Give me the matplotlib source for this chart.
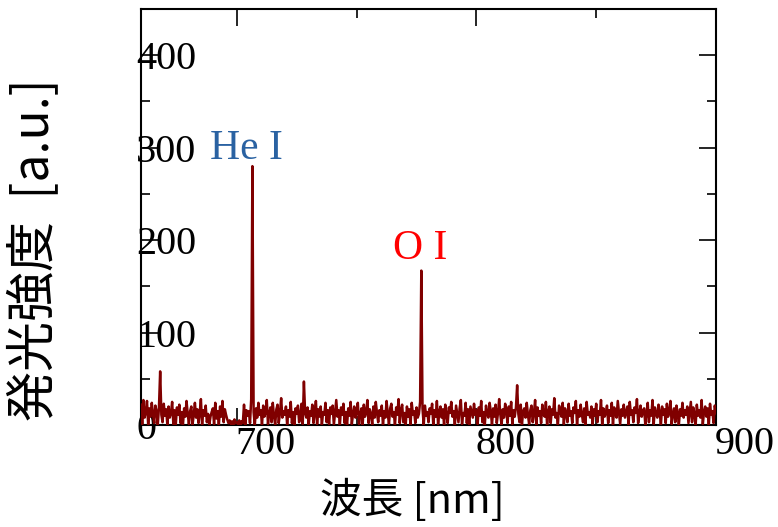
import numpy as np
import matplotlib
matplotlib.use("Agg")
import matplotlib.pyplot as plt
from matplotlib.ticker import MultipleLocator
from matplotlib.transforms import ScaledTranslation

# wavelength grid of the spectrometer [nm], 0.5 nm step
wl_start, wl_step = 660.0, 0.5

# emission intensity [a.u.]
intensity = [
    22, 1, 27, 8, 14, 26, 0, 18, 9, 24, 12, 2, 21, 15, 0, 19, 58, 11, 3, 23,
    10, 17, 0, 20, 8, 13, 25, 1, 16, 0, 19, 11, 22, 2, 14, 0, 18, 9, 26, 12,
    1, 15, 20, 0, 11, 24, 8, 17, 2, 13, 28, 0, 16, 10, 21, 3, 12, 0, 9, 14,
    18, 1, 24, 7, 15, 0, 20, 9, 26, 3, 17, 11, 6, 2, 5, 1, 4, 0, 6, 2,
    3, 1, 5, 0, 4, 2, 22, 0, 16, 10, 15, 2, 28, 280, 14, 0, 18, 8, 24, 11,
    16, 0, 21, 9, 14, 27, 1, 12, 19, 3, 24, 10, 0, 17, 22, 2, 13, 29, 8, 15,
    11, 20, 0, 16, 9, 25, 2, 14, 0, 18, 12, 21, 3, 10, 23, 1, 47, 13, 8, 19,
    0, 15, 10, 22, 2, 13, 26, 1, 17, 9, 20, 0, 14, 11, 24, 3, 16, 1, 19, 12,
    21, 0, 13, 27, 9, 16, 0, 19, 11, 23, 2, 14, 0, 18, 10, 25, 1, 12, 20, 8,
    15, 24, 1, 11, 18, 0, 22, 9, 14, 27, 2, 17, 12, 0, 20, 8, 25, 13, 3, 16,
    10, 21, 0, 15, 8, 26, 12, 1, 18, 23, 9, 14, 0, 19, 11, 28, 2, 16, 22, 3,
    13, 1, 20, 9, 17, 0, 24, 11, 15, 2, 19, 8, 12, 25, 167, 18, 0, 21, 10, 14,
    3, 18, 12, 23, 0, 16, 9, 26, 1, 14, 20, 8, 17, 0, 22, 11, 2, 19, 13, 25,
    9, 15, 0, 21, 12, 3, 18, 27, 1, 13, 10, 24, 2, 17, 0, 20, 14, 8, 23, 11,
    16, 1, 19, 10, 26, 3, 14, 0, 21, 12, 8, 24, 15, 0, 18, 9, 22, 2, 13, 28,
    11, 0, 17, 8, 23, 14, 2, 20, 10, 25, 1, 16, 9, 19, 43, 12, 3, 22, 0, 15,
    18, 8, 24, 11, 1, 16, 21, 3, 13, 27, 0, 19, 10, 15, 2, 22, 12, 9, 25, 0,
    14, 20, 2, 17, 11, 29, 8, 13, 0, 21, 16, 9, 24, 1, 18, 12, 3, 23, 10, 15,
    2, 19, 13, 26, 0, 16, 9, 22, 12, 3, 18, 0, 25, 11, 14, 8, 20, 1, 17, 10,
    23, 3, 15, 11, 27, 0, 18, 9, 13, 21, 2, 16, 10, 24, 0, 19, 12, 8, 26, 14,
    1, 17, 10, 22, 8, 14, 20, 0, 25, 11, 16, 3, 19, 13, 28, 2, 12, 21, 9, 15,
    18, 0, 13, 24, 3, 16, 10, 27, 1, 19, 12, 8, 22, 14, 0, 20, 11, 17, 2, 23,
    9, 15, 26, 1, 12, 18, 3, 21, 13, 0, 17, 10, 24, 8, 16, 11, 20, 2, 14, 25,
    3, 19, 12, 0, 22, 10, 16, 8, 27, 1, 14, 20, 9, 18, 0, 23, 11, 15, 2, 21,
    13,
]
wavelength = wl_start + wl_step * np.arange(len(intensity))

# line labels: text, wavelength, intensity, colour
line_names = ["He I", "O I"]
line_wl = [703.8, 776.4]
line_y = [288, 180]
line_colors = ["#2a62a2", "#ff0000"]

serif = "Liberation Serif"
cjk = ["Noto Sans CJK JP", "DejaVu Sans"]

fig = plt.figure(figsize=(7.78, 5.27), dpi=100)
ax = fig.add_axes([141 / 778, 102 / 527, 575 / 778, 416 / 527])

ax.plot(wavelength, intensity, color="#800000", lw=1.8, zorder=3)

for name, x, y, c in zip(line_names, line_wl, line_y, line_colors):
    ax.text(x, y, name, color=c, fontsize=30, family=serif,
            ha="center", va="baseline")

ax.set_xlim(660, 900)
ax.set_ylim(0, 450)
ax.xaxis.set_major_locator(MultipleLocator(100))
ax.xaxis.set_minor_locator(MultipleLocator(50))
ax.yaxis.set_major_locator(MultipleLocator(100))
ax.yaxis.set_minor_locator(MultipleLocator(50))

for s in ax.spines.values():
    s.set_linewidth(1.5)
ax.tick_params(which="both", direction="in", top=True, right=True, width=1.2)
ax.tick_params(which="major", length=12)
ax.tick_params(which="minor", length=6.5)
ax.tick_params(axis="y", pad=3.6, labelsize=29)
ax.tick_params(axis="x", pad=1, labelsize=29)

for lbl in ax.get_yticklabels():
    lbl.set_family(serif)
    lbl.set_horizontalalignment("left")
shift = ScaledTranslation(0.29, 0, fig.dpi_scale_trans)
for lbl in ax.get_xticklabels():
    lbl.set_family(serif)
    lbl.set_transform(lbl.get_transform() + shift)

fig.text(412 / 778, 1 - 500 / 527, "波長 [nm]", fontsize=30, family=cjk,
         ha="center", va="center")
fig.text(35 / 778, 1 - 250 / 527, "発光強度  [a.u.]", fontsize=36, family=cjk,
         rotation=90, ha="center", va="center")

fig.savefig("out.png", dpi=100)
